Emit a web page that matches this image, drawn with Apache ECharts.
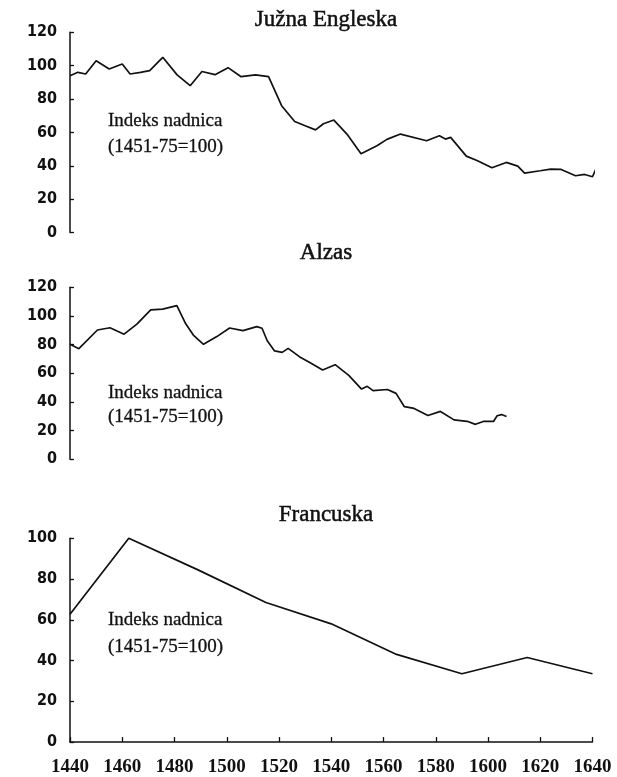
<!DOCTYPE html>
<html>
<head>
<meta charset="utf-8">
<script src="https://cdn.jsdelivr.net/npm/echarts@6/dist/echarts.min.js"></script>
<style>
html,body{margin:0;padding:0;background:#fff;}
#chart{width:617px;height:777px;}
</style>
</head>
<body>
<div id="chart"></div>
<script>
// ---- data ----
var panelTitles = ['Južna Engleska', 'Alzas', 'Francuska'];
var noteLine1 = 'Indeks nadnica';
var noteLine2 = '(1451-75=100)';

var englandYears = [1440,1443,1446,1450,1455,1460,1463,1467,1470.5,1475.5,1481,1486,1490.5,1495.5,1500.5,1505.5,1511,1516,1521,1526,1530,1534,1537,1541,1546,1551.4,1557.5,1561.3,1566.5,1576.5,1581.4,1583.7,1585.7,1591.7,1596,1601.5,1607,1611.4,1614,1620,1624,1628,1633.5,1637,1640,1642];
var englandWages = [94,96,95,103,98,101,95,96,97,105,94.5,88,96.5,94.6,98.8,93.4,94.5,93.4,76,66.5,64,61.5,65.2,67.4,59,47.2,52,55.8,59,55,58,56,57,45.8,43,38.8,42,39.8,35.6,37,38,37.8,34,34.8,33.4,40.5];

var alsaceYears = [1440,1443.4,1450.5,1455.3,1460.7,1465.6,1470.9,1475.5,1480.9,1484.3,1487.2,1491.1,1496.2,1501.1,1506.2,1511.5,1513.5,1515.5,1518.3,1521.2,1523.5,1527.8,1532.1,1536.7,1541.5,1546.7,1551.6,1553.8,1556,1561.5,1564.8,1568,1571.7,1577,1581.8,1587,1592,1595.2,1598.2,1602.1,1603.5,1605.2,1607.1];
var alsaceWages = [80.2,77.2,90.2,91.8,87.3,94.3,104.2,104.8,107.2,94.5,86.7,80.2,85.6,91.6,89.8,92.6,91.4,82.7,75.6,74.6,77.4,71.6,67.2,62.3,66,58.5,49,50.9,47.9,48.7,46,36.7,35.5,30.6,33.4,27.5,26.5,24.4,26.4,26.4,30.4,31.2,29.8];

var franceYears = [1440,1462.5,1489,1515,1540,1565,1590,1615,1640];
var franceWages = [62.7,100,84.5,68.5,58,43,33.5,41.5,33.5];

var yearTicks = {min:1440, max:1640, interval:20};
var yMaxes = [120, 120, 100];

function pairs(xs, ys){ return xs.map(function(x,i){ return [x, ys[i]]; }); }

// ---- layout ----
var grids = [
  {left:70, right:24.5, top:32.3, height:200.2},
  {left:70, right:24.5, top:287.3, height:172},
  {left:70, right:24.5, top:538.3, height:204.2}
];
var titleY = [20, 253, 515];
var noteY = [[120.7,147.3],[393.3,416.7],[620,646.7]];

var axisColor = '#111';
var xAxes = grids.map(function(g, i){
  var bottom = (i === 2);
  return {
    type:'value', gridIndex:i, min:yearTicks.min, max:yearTicks.max, interval:yearTicks.interval,
    axisLine:{show:bottom, lineStyle:{color:axisColor, width:1.5}},
    axisTick:{show:bottom, inside:true, length:5, lineStyle:{color:axisColor, width:1.3}},
    axisLabel:{show:bottom, color:'#111', fontFamily:'Liberation Serif', fontWeight:'bold', fontSize:19, margin:16,
      formatter:function(v){ return String(v); }},
    splitLine:{show:false}
  };
});
var yAxes = grids.map(function(g, i){
  return {
    type:'value', gridIndex:i, min:0, max:yMaxes[i], interval:20,
    axisLine:{show:true, lineStyle:{color:axisColor, width:1.5}},
    axisTick:{show:true, inside:true, length:4, lineStyle:{color:axisColor, width:1.3}},
    axisLabel:{color:'#111', fontFamily:'Liberation Sans Narrow, DejaVu Sans Condensed, sans-serif', fontWeight:'bold', fontSize:16, margin:13},
    splitLine:{show:false}
  };
});

var seriesData = [pairs(englandYears, englandWages), pairs(alsaceYears, alsaceWages), pairs(franceYears, franceWages)];
var series = seriesData.map(function(d, i){
  return {
    type:'line', xAxisIndex:i, yAxisIndex:i, data:d, showSymbol:false, clip:false,
    lineStyle:{color:'#111', width:1.7}, silent:true, animation:false
  };
});

var graphics = [];
panelTitles.forEach(function(t, i){
  graphics.push({type:'text', x:326, y:titleY[i], style:{text:t, fill:'#111', stroke:'#111', lineWidth:0.5, font:'23px "Liberation Serif"', textAlign:'center', textVerticalAlign:'middle', align:'center', verticalAlign:'middle'}});
  graphics.push({type:'text', x:108, y:noteY[i][0], style:{text:noteLine1, fill:'#111', stroke:'#111', lineWidth:0.3, font:'19px "Liberation Serif"', textAlign:'left', textVerticalAlign:'middle', align:'left', verticalAlign:'middle'}});
  graphics.push({type:'text', x:108, y:noteY[i][1], style:{text:noteLine2, fill:'#111', stroke:'#111', lineWidth:0.3, font:'19px "Liberation Serif"', textAlign:'left', textVerticalAlign:'middle', align:'left', verticalAlign:'middle'}});
});

var chart = echarts.init(document.getElementById('chart'), null, {renderer:'canvas'});
chart.setOption({
  backgroundColor:'#fff',
  animation:false,
  grid:grids,
  xAxis:xAxes,
  yAxis:yAxes,
  series:series,
  graphic:graphics
});
</script>
</body>
</html>
